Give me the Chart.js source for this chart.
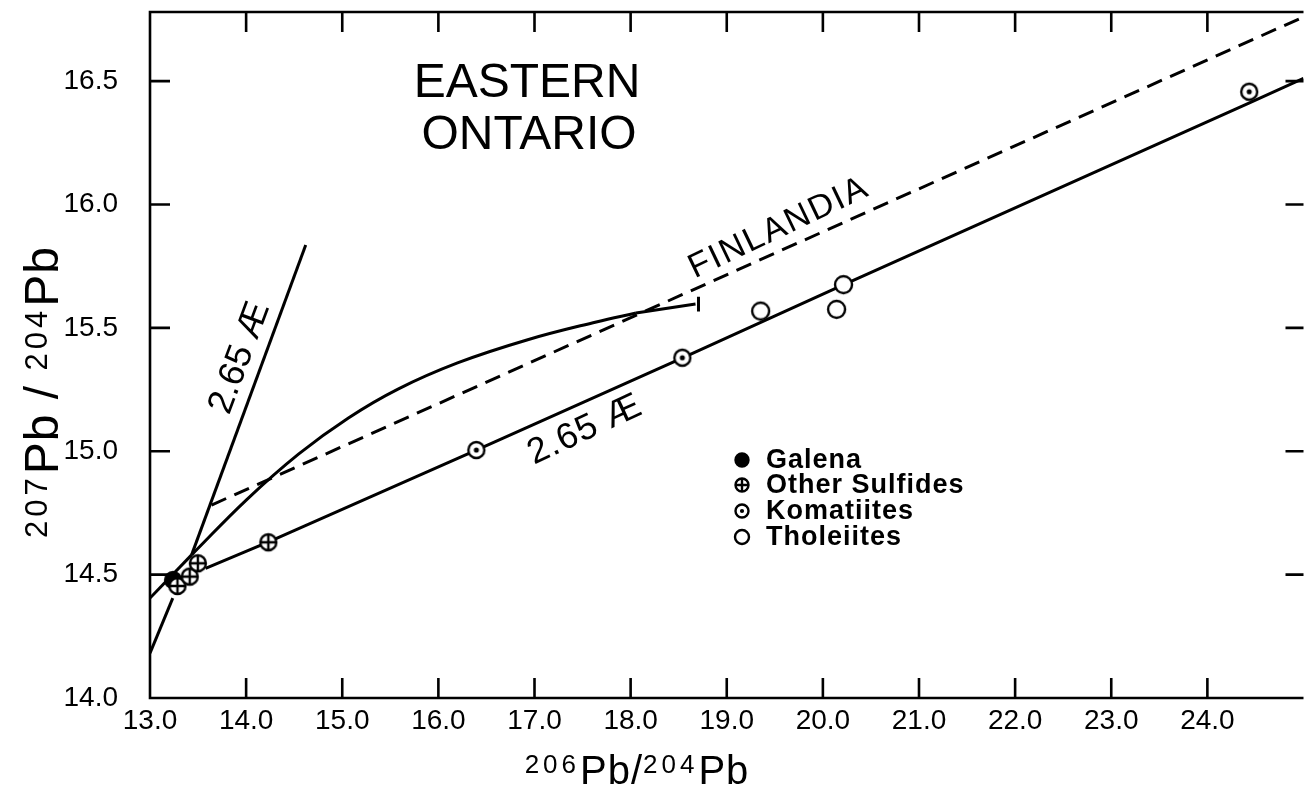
<!DOCTYPE html>
<html>
<head>
<meta charset="utf-8">
<script src="https://cdn.jsdelivr.net/npm/chart.js@4.4.1/dist/chart.umd.min.js"></script>
<style>
  html, body { margin: 0; padding: 0; background: #fff; }
  .wrap { width: 1313px; height: 790px; position: relative; }
</style>
</head>
<body>
<div class="wrap"><canvas id="leadChart"></canvas></div>
<script>
// axis tick labels
const xTickLabels = ["13.0", "14.0", "15.0", "16.0", "17.0", "18.0", "19.0", "20.0", "21.0", "22.0", "23.0", "24.0"];
const yTickLabels = ["14.0", "14.5", "15.0", "15.5", "16.0", "16.5"];

// samples (206Pb/204Pb vs 207Pb/204Pb)
const galenaX = [13.24];
const galenaY = [14.478];
const sulfideX = [13.286, 13.413, 13.498, 14.231];
const sulfideY = [14.454, 14.492, 14.546, 14.631];
const komatiiteX = [16.395, 18.538, 24.435];
const komatiiteY = [15.005, 15.379, 16.457];
const tholeiiteX = [19.353, 20.215, 20.143];
const tholeiiteY = [15.568, 15.675, 15.575];

// 2.65 Ae isochron through the volcanics
const isochronX = [13.578, 14.228, 16.395, 18.541, 20.212, 24.432, 25.0];
const isochronY = [14.525, 14.632, 15.005, 15.378, 15.674, 16.411, 16.511];

// steep 2.65 Ae line and the short line from the axis
const steepX = [13.433, 14.62];
const steepY = [14.58, 15.836];
const leftLineX = [13.0, 13.433];
const leftLineY = [14.405, 14.58];

// growth curve
const growthLowX = [13.0, 13.237];
const growthLowY = [14.182, 14.405];
const growthX = [13.433, 14.001, 14.548, 15.064, 15.58, 16.199, 16.921, 17.643, 18.056];
const growthY = [14.58, 14.802, 14.989, 15.135, 15.252, 15.358, 15.451, 15.524, 15.56];
const growthTailX = [18.056, 18.675];
const growthTailY = [15.56, 15.597];
const tailTickX = [18.706, 18.706];
const tailTickY = [15.566, 15.626];

// Finlandia reference line
const finlandiaX = [13.64, 25.0];
const finlandiaY = [14.782, 16.76];

const legendItems = ["Galena", "Other Sulfides", "Komatiites", "Tholeiites"];
const legendKinds = ["filled", "cross", "dot", "open"];

function toPoints(xs, ys) {
  return xs.map((x, i) => ({ x: x, y: ys[i] }));
}

function drawMarker(ctx, kind, cx, cy, r) {
  ctx.save();
  ctx.lineWidth = 2.4;
  ctx.strokeStyle = "#000";
  ctx.fillStyle = kind === "filled" ? "#000" : "#fff";
  ctx.beginPath();
  ctx.arc(cx, cy, r, 0, Math.PI * 2);
  ctx.fill();
  ctx.stroke();
  if (kind === "cross") {
    ctx.beginPath();
    ctx.moveTo(cx - r, cy); ctx.lineTo(cx + r, cy);
    ctx.moveTo(cx, cy - r); ctx.lineTo(cx, cy + r);
    ctx.stroke();
  }
  if (kind === "dot") {
    ctx.fillStyle = "#000";
    ctx.beginPath();
    ctx.arc(cx, cy, r * 0.32, 0, Math.PI * 2);
    ctx.fill();
  }
  ctx.restore();
}

function markerCanvas(kind, r) {
  const size = Math.ceil(r * 2 + 6);
  const c = document.createElement("canvas");
  c.width = size;
  c.height = size;
  drawMarker(c.getContext("2d"), kind, size / 2, size / 2, r);
  return c;
}

function lineSet(xs, ys, extra) {
  return Object.assign({
    data: toPoints(xs, ys),
    showLine: true,
    borderColor: "#000",
    borderWidth: 3,
    pointRadius: 0,
    fill: false,
    order: 5
  }, extra || {});
}

function pointSet(xs, ys, kind, r, order) {
  return {
    data: toPoints(xs, ys),
    showLine: false,
    pointStyle: markerCanvas(kind, r),
    pointRadius: r,
    order: order
  };
}

function drawText(ctx, str, x, y, font, angle, spacing) {
  ctx.save();
  ctx.translate(x, y);
  ctx.rotate(angle * Math.PI / 180);
  ctx.font = font;
  ctx.letterSpacing = (spacing || 0) + "px";
  ctx.fillStyle = "#000";
  ctx.textAlign = "center";
  ctx.textBaseline = "middle";
  ctx.fillText(str, 0, 0);
  ctx.restore();
}

// title like 206Pb/204Pb with raised mass numbers
function drawIsotopeTitle(ctx, runs, cx, cy, angle, bigSize, smallSize) {
  const big = bigSize + "px 'Liberation Sans', Arial, sans-serif";
  const small = smallSize + "px 'Liberation Sans', Arial, sans-serif";
  ctx.save();
  ctx.translate(cx, cy);
  ctx.rotate(angle * Math.PI / 180);
  ctx.fillStyle = "#000";
  ctx.textBaseline = "alphabetic";
  ctx.textAlign = "left";
  let total = 0;
  runs.forEach(r => {
    ctx.font = r.sup ? small : big;
    ctx.letterSpacing = r.sup ? "4px" : "1px";
    total += ctx.measureText(r.t).width;
  });
  let x = -total / 2;
  runs.forEach(r => {
    ctx.font = r.sup ? small : big;
    ctx.letterSpacing = r.sup ? "4px" : "1px";
    ctx.fillText(r.t, x, r.sup ? 3 : 14);
    x += ctx.measureText(r.t).width;
  });
  ctx.restore();
}

const frameAndText = {
  id: "frameAndText",
  afterDatasetsDraw(chart) {
    const { ctx, chartArea: a, scales } = chart;
    const xs = scales.x, ys = scales.y;
    ctx.save();
    ctx.strokeStyle = "#000";
    ctx.lineWidth = 2.6;
    ctx.beginPath();
    ctx.moveTo(a.right, a.top);
    ctx.lineTo(a.left, a.top);
    ctx.lineTo(a.left, a.bottom);
    ctx.lineTo(a.right, a.bottom);
    ctx.stroke();

    // inward ticks on all four sides
    ctx.beginPath();
    xTickLabels.forEach(l => {
      const v = parseFloat(l);
      if (v <= xs.min) return;
      const px = xs.getPixelForValue(v);
      ctx.moveTo(px, a.bottom); ctx.lineTo(px, a.bottom - 20);
      ctx.moveTo(px, a.top); ctx.lineTo(px, a.top + 20);
    });
    yTickLabels.forEach(l => {
      const v = parseFloat(l);
      if (v <= ys.min) return;
      const py = ys.getPixelForValue(v);
      ctx.moveTo(a.left, py); ctx.lineTo(a.left + 20, py);
      ctx.moveTo(a.right, py); ctx.lineTo(a.right - 18, py);
    });
    ctx.stroke();
    ctx.restore();

    const sans = "'Liberation Sans', Arial, sans-serif";
    drawText(ctx, "EASTERN", 527, 84, "48px " + sans, 0, 0);
    drawText(ctx, "ONTARIO", 529, 136, "48px " + sans, 0, 0);
    drawText(ctx, "2.65 Æ", 240, 358, "36px " + sans, -69.6, 0);
    drawText(ctx, "2.65 Æ", 585, 430, "36px " + sans, -25, 1);
    drawText(ctx, "FINLANDIA", 779, 228, "34px " + sans, -25.5, 2);

    // legend
    const rows = [460, 485, 511, 537];
    legendItems.forEach((label, i) => {
      drawMarker(ctx, legendKinds[i], 742, rows[i], legendKinds[i] === "open" ? 7 : 6.5);
      ctx.save();
      ctx.font = "bold 27px " + sans;
      ctx.letterSpacing = "1px";
      ctx.fillStyle = "#000";
      ctx.textAlign = "left";
      ctx.textBaseline = "middle";
      ctx.fillText(label, 766, rows[i] + 1);
      ctx.restore();
    });

    drawIsotopeTitle(ctx, [{ t: "206", sup: true }, { t: "Pb/" }, { t: "204", sup: true }, { t: "Pb" }], 637, 770, 0, 40, 26);
    drawIsotopeTitle(ctx, [{ t: "207", sup: true }, { t: "Pb / " }, { t: "204", sup: true }, { t: "Pb" }], 44, 392, -90, 48, 31);
  }
};

const sans = "'Liberation Sans', Arial, sans-serif";

new Chart(document.getElementById("leadChart"), {
  type: "scatter",
  data: {
    datasets: [
      lineSet(finlandiaX, finlandiaY, { borderDash: [16, 9] }),
      lineSet(isochronX, isochronY),
      lineSet(steepX, steepY),
      lineSet(leftLineX, leftLineY),
      lineSet(growthLowX, growthLowY),
      lineSet(growthX, growthY, { tension: 0.4 }),
      lineSet(growthTailX, growthTailY),
      lineSet(tailTickX, tailTickY),
      pointSet(galenaX, galenaY, "filled", 8, 2),
      pointSet(sulfideX, sulfideY, "cross", 8, 1),
      pointSet(komatiiteX, komatiiteY, "dot", 8, 1),
      pointSet(tholeiiteX, tholeiiteY, "open", 8.5, 1)
    ]
  },
  options: {
    responsive: true,
    maintainAspectRatio: false,
    animation: false,
    events: [],
    layout: { padding: { top: 12, right: 0, left: 0, bottom: 0 } },
    plugins: {
      legend: { display: false },
      tooltip: { enabled: false }
    },
    scales: {
      x: {
        type: "linear",
        min: 13,
        max: 25,
        afterFit: s => { s.height = 92; s.paddingLeft = 0; s.paddingRight = 0; },
        grid: { display: false, drawTicks: false },
        border: { display: false },
        ticks: {
          stepSize: 1,
          autoSkip: false,
          maxRotation: 0,
          includeBounds: false,
          padding: 6,
          color: "#000",
          font: { family: sans, size: 28 },
          callback: v => xTickLabels.find(l => Math.abs(parseFloat(l) - v) < 1e-6) || ""
        }
      },
      y: {
        type: "linear",
        min: 14,
        max: 16.78,
        afterFit: s => { s.width = 150; s.paddingTop = 0; s.paddingBottom = 0; },
        grid: { display: false, drawTicks: false },
        border: { display: false },
        ticks: {
          stepSize: 0.5,
          includeBounds: false,
          padding: 32,
          color: "#000",
          font: { family: sans, size: 28 },
          callback: v => yTickLabels.find(l => Math.abs(parseFloat(l) - v) < 1e-6) || ""
        }
      }
    }
  },
  plugins: [frameAndText]
});
</script>
</body>
</html>
